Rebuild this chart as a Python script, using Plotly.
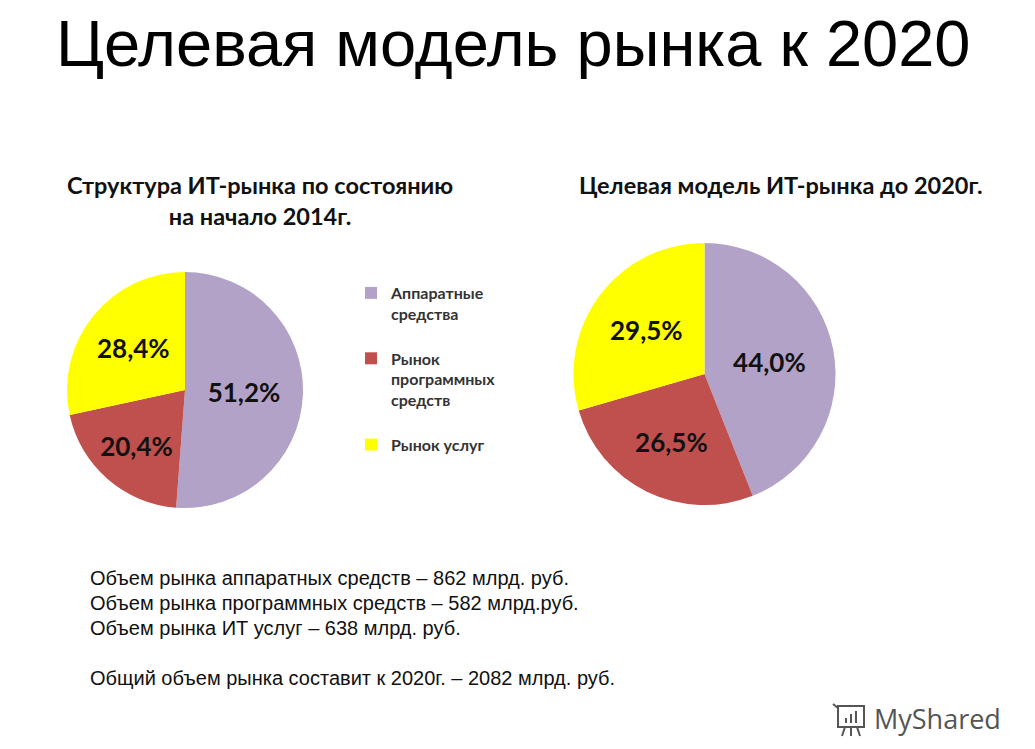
import plotly.graph_objects as go

# data
segments = ["Аппаратные<br>средства<br> ", "Рынок<br>программных<br>средств<br> ", "Рынок услуг"]
share_2014 = [51.2, 20.4, 28.4]
share_2020 = [44.0, 26.5, 29.5]
colors = ["#B3A2C7", "#C0504D", "#FFFF00"]

title_main = "Целевая модель рынка к 2020"
title_left = "Структура ИТ-рынка по состоянию<br>на начало 2014г."
title_right = "Целевая модель ИТ-рынка до 2020г."
notes = [
    "Объем рынка аппаратных средств – 862 млрд. руб.",
    "Объем рынка программных средств – 582 млрд.руб.",
    "Объем рынка ИТ услуг – 638 млрд. руб.",
    "",
    "Общий объем рынка составит к 2020г. – 2082 млрд. руб.",
]

W, H = 1035, 749
bold_font = "Lato"


def px(x0, x1):
    return [x0 / W, x1 / W]


def py(y_top, y_bot):
    return [1 - y_bot / H, 1 - y_top / H]


def note(text, x, y, size, family, xanchor="center", color="#111111", weight="normal"):
    # x, y given in pixels from the top-left corner
    return dict(text=text, x=x / W, y=1 - y / H, xref="paper", yref="paper",
                xanchor=xanchor, yanchor="middle", showarrow=False,
                font=dict(family=family, size=size, color=color, weight=weight))


pie_text = dict(family=bold_font, size=26, color="#111111", weight="bold")

fig = go.Figure()
fig.add_trace(go.Pie(labels=segments, values=share_2014,
                     sort=False, direction="clockwise", rotation=0,
                     marker=dict(colors=colors),
                     textposition="inside", insidetextorientation="horizontal",
                     texttemplate="%{value:.1f}%", textfont=pie_text,
                     domain=dict(x=px(67, 303), y=py(272, 508)),
                     legend="legend", hoverinfo="value"))
fig.add_trace(go.Pie(labels=segments, values=share_2020,
                     sort=False, direction="clockwise", rotation=0,
                     marker=dict(colors=colors),
                     textposition="inside", insidetextorientation="horizontal",
                     texttemplate="%{value:.1f}%", textfont=pie_text,
                     domain=dict(x=px(573, 836), y=py(243, 505)),
                     legend="legend2", hoverinfo="value"))

legend_style = dict(font=dict(family=bold_font, size=16, color="#333333", weight="bold"),
                    valign="top", bgcolor="rgba(0,0,0,0)",
                    xanchor="left", yanchor="top", traceorder="normal")

annotations = [
    note(title_main, 513, 43, 65, "Liberation Sans", color="#000000"),
    note(title_left, 260, 200, 23.5, bold_font, weight="bold"),
    note(title_right, 781, 185, 23.5, bold_font, weight="bold"),
    note("MyShared", 872, 718, 27, "Open Sans", xanchor="left", color="#555555"),
]
for i, line in enumerate(notes):
    if line:
        annotations.append(note(line, 88, 578 + 25 * i, 20, "Liberation Sans", xanchor="left"))

logo = "#555555"
shapes = [
    dict(type="rect", x0=838, x1=864, y0=706, y1=727, line=dict(color=logo, width=2)),
    dict(type="line", x0=833, x1=838, y0=704, y1=708, line=dict(color=logo, width=2)),
    dict(type="rect", x0=845, x1=847, y0=718, y1=723, fillcolor=logo, line=dict(width=0)),
    dict(type="rect", x0=850, x1=852, y0=714, y1=723, fillcolor=logo, line=dict(width=0)),
    dict(type="rect", x0=855, x1=857, y0=711, y1=723, fillcolor=logo, line=dict(width=0)),
    dict(type="line", x0=851, x1=851, y0=727, y1=736, line=dict(color=logo, width=2)),
    dict(type="line", x0=845, x1=842, y0=727, y1=736, line=dict(color=logo, width=2)),
    dict(type="line", x0=857, x1=860, y0=727, y1=736, line=dict(color=logo, width=2)),
]
for s in shapes:
    s.update(xref="paper", yref="paper",
             x0=s["x0"] / W, x1=s["x1"] / W, y0=1 - s["y0"] / H, y1=1 - s["y1"] / H)

fig.update_layout(
    width=W, height=H,
    margin=dict(l=0, r=0, t=0, b=0),
    paper_bgcolor="white", plot_bgcolor="white",
    separators=", ",
    showlegend=True,
    legend=dict(x=351 / W, y=1 - 276 / H, **legend_style),
    legend2=dict(x=873 / W, y=1 - 257 / H, **legend_style),
    annotations=annotations,
    shapes=shapes,
)

fig.write_html("out.html", config={"displayModeBar": False},
               post_script="document.body.style.margin = '0';")
